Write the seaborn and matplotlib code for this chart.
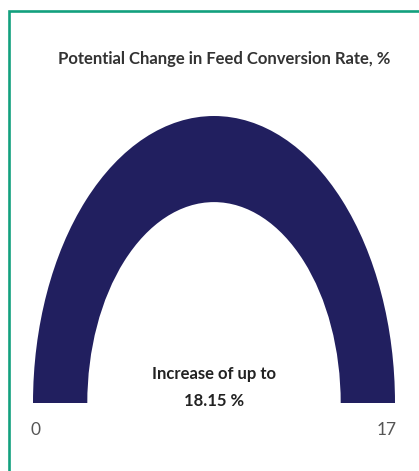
import numpy as np
import pandas as pd
import matplotlib
matplotlib.use("Agg")
import matplotlib.pyplot as plt
from matplotlib.patches import Wedge, Rectangle
import seaborn as sns

# ---- data ----
title = "Potential Change in Feed Conversion Rate, %"
gauge_min = 0
gauge_max = 17
gauge_value = 18.15
callout_lines = ["Increase of up to", "18.15 %"]

sns.set_theme(style="white")
plt.rcParams['font.family'] = ['Lato', 'DejaVu Sans']

W, H = 419, 471
fig = plt.figure(figsize=(W / 100, H / 100), dpi=100)
fig.patch.set_facecolor("white")

def fx(px):
    return px / W

def fy(py):
    return 1 - py / H

# gauge axes: unit semicircle stretched to match the reference
left_px, right_px, top_px, bottom_px = 33, 395, 116, 403
ax = fig.add_axes([fx(left_px), fy(bottom_px), (right_px - left_px) / W, (bottom_px - top_px) / H])
ax.set_xlim(-1, 1)
ax.set_ylim(0, 1)
ax.axis("off")

arc_color = "#211f5f"
frac = min(max((gauge_value - gauge_min) / (gauge_max - gauge_min), 0), 1)
inner = 0.70
ax.add_patch(Wedge((0, 0), 1.0, 180 - 180 * frac, 180, width=1 - inner,
                   facecolor=arc_color, edgecolor="none"))

# border (partially clipped on right/bottom like the reference)
fig.patches.append(Rectangle((fx(8.5), fy(600)), fx(600), fy(10.5) - fy(600),
                             transform=fig.transFigure, fill=False,
                             edgecolor="#13a07e", linewidth=1.9))

# title
fig.text(fx(224), fy(59), title, ha="center", va="center",
         fontsize=12, fontweight="bold", color="#333333")

# callout
fig.text(fx(214), fy(374), callout_lines[0], ha="center", va="center",
         fontsize=12, fontweight="bold", color="#222222")
fig.text(fx(214), fy(401), callout_lines[1], ha="center", va="center",
         fontsize=12, fontweight="bold", color="#222222")

# min / max labels
fig.text(fx(35), fy(430), str(gauge_min), ha="center", va="center",
         fontsize=12.5, color="#555555")
fig.text(fx(387), fy(430), str(gauge_max), ha="center", va="center",
         fontsize=12.5, color="#555555")

fig.savefig("out.png", dpi=100)
